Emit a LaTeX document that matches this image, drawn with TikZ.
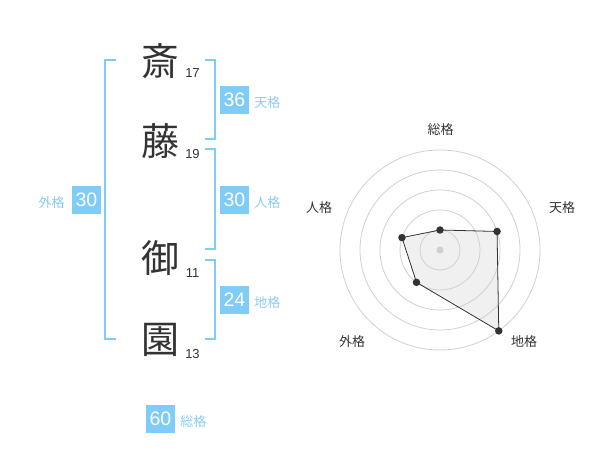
\documentclass[tikz,border=0pt]{standalone}
\usepackage{fontspec}
\setmainfont{Liberation Sans}
\newfontfamily\cjk{Noto Sans CJK JP}
\usetikzlibrary{positioning}

\definecolor{skyblue}{HTML}{80CCF8}
\definecolor{labelblue}{HTML}{88CCF2}
\definecolor{inkgray}{HTML}{333333}
\definecolor{ringgray}{HTML}{D0D0D0}
\definecolor{areagray}{HTML}{F0F0F0}

\begin{document}
\begin{tikzpicture} [x = 1pt, y = -1pt, node distance = 5pt,
    kanji/.style = {text = inkgray, inner sep = 0pt, font = \cjk\fontsize{38}{38}\selectfont},
    strokes/.style = {text = inkgray, inner sep = 0pt, font = \fontsize{13}{13}\selectfont},
    scorebox/.style = {fill = skyblue, text = white, inner sep = 0pt,
        minimum width = 29pt, minimum height = 28pt, font = \fontsize{19.5}{19.5}\selectfont},
    kaku/.style = {text = labelblue, inner sep = 0pt, yshift = -3pt, font = \cjk\fontsize{13}{13}\selectfont},
    bracket/.style = {draw = skyblue, line width = 2pt},
    ring/.style = {draw = ringgray, line width = 0.8pt},
    axislabel/.style = {text = inkgray, inner sep = 0pt, font = \cjk\fontsize{13}{13}\selectfont},
    dot/.style = {circle, fill = inkgray, inner sep = 0pt, minimum size = 7.5pt}]

\useasboundingbox (0,0) rectangle (600,470);

% name
\node (c1) [kanji] at (160,61)  {斎};
\node (c2) [kanji] at (160,141) {藤};
\node (c3) [kanji] at (160,258) {御};
\node (c4) [kanji] at (160,340) {園};

\node (s1) [strokes] at (192.5,73)  {17};
\node (s2) [strokes] at (192.5,154) {19};
\node (s3) [strokes] at (192.5,273) {11};
\node (s4) [strokes] at (192.5,354) {13};

% brackets
\coordinate (ltop) at (116,60);
\coordinate (lbot) at (116,339.5);
\draw [bracket] (ltop) -- ++(-11,0) |- (lbot);

\coordinate (ttop) at (205,60);
\coordinate (tbot) at (205,139.5);
\draw [bracket] (ttop) -- ++(9.5,0) |- (tbot);

\coordinate (jtop) at (205,149.5);
\coordinate (jbot) at (205,249.5);
\draw [bracket] (jtop) -- ++(9.5,0) |- (jbot);

\coordinate (ctop) at (205,260);
\coordinate (cbot) at (205,339.5);
\draw [bracket] (ctop) -- ++(9.5,0) |- (cbot);

% scores
\node (ten)  [scorebox] at (234.5,100)  {36};
\node (jin)  [scorebox] at (234.5,200)  {30};
\node (chi)  [scorebox] at (234.5,300)  {24};
\node (gai)  [scorebox] at (86.5,200)   {30};
\node (sou)  [scorebox] at (160.5,419)  {60};

\node (lten) [kaku, right = of ten] {天格};
\node (ljin) [kaku, right = of jin] {人格};
\node (lchi) [kaku, right = of chi] {地格};
\node (lgai) [kaku, left = 7pt of gai] {外格};
\node (lsou) [kaku, right = of sou] {総格};

% radar
\coordinate (cen) at (440,250);
\coordinate (rsou) at ([shift={(90:20pt)}]cen);
\coordinate (rten) at ([shift={(18:60pt)}]cen);
\coordinate (rchi) at ([shift={(-54:100pt)}]cen);
\coordinate (rgai) at ([shift={(234:40pt)}]cen);
\coordinate (rjin) at ([shift={(162:40pt)}]cen);

\fill [areagray] (rsou) -- (rten) -- (rchi) -- (rgai) -- (rjin) -- cycle;
\foreach \r in {20,40,60,80,100}
    \draw [ring] (cen) circle (\r pt);
\draw [inkgray, line width = 0.8pt] (rsou) -- (rten) -- (rchi) -- (rgai) -- (rjin) -- cycle;
\fill [ringgray] (cen) circle (3.5pt);

\foreach \p in {rsou, rten, rchi, rgai, rjin}
    \node [dot] at (\p) {};

\node (asou) [axislabel] at (440.5,130)   {総格};
\node (aten) [axislabel] at (562,208)     {天格};
\node (ajin) [axislabel] at (319,208)     {人格};
\node (agai) [axislabel] at (352,342)     {外格};
\node (achi) [axislabel] at (524,342)     {地格};
\end{tikzpicture}
\end{document}
